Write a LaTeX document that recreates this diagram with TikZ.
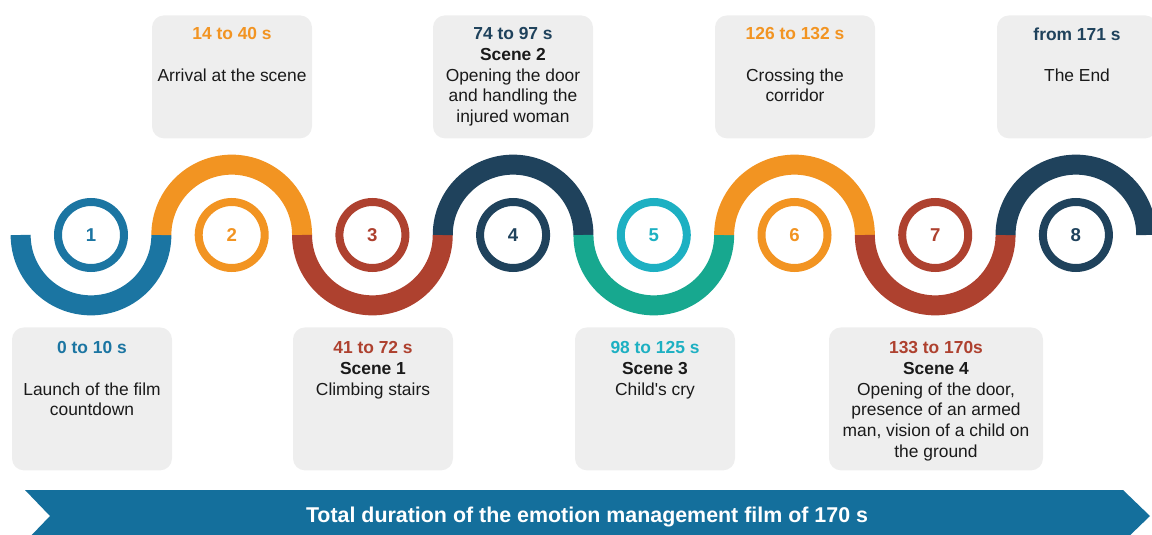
\documentclass[tikz,border=0pt]{standalone}
\usepackage{fontspec}
\setmainfont{Liberation Sans}
\usetikzlibrary{positioning}

\definecolor{cblue}{HTML}{1B75A2}
\definecolor{corange}{HTML}{F29422}
\definecolor{cred}{HTML}{AE412F}
\definecolor{cnavy}{HTML}{1F425C}
\definecolor{ccyan}{HTML}{1DB0C2}
\definecolor{cteal}{HTML}{17A88F}
\definecolor{cardgray}{HTML}{EEEEEE}
\definecolor{ink}{HTML}{1A1A1A}
\definecolor{banner}{HTML}{146F9C}

\begin{document}
\begin{tikzpicture}[x=0.5pt,y=-0.5pt,
    num/.style={circle,draw,line width=4pt,minimum size=33pt,inner sep=0pt,font=\fontsize{9.3}{10}\selectfont\bfseries},
    wave/.style={line width=10pt},
    card/.style={rectangle,fill=cardgray,rounded corners=6pt,minimum width=80pt,inner sep=0pt},
    topcard/.style={card,minimum height=61.5pt,anchor=north},
    lowcard/.style={card,minimum height=71.5pt,anchor=north},
    info/.style={align=center,font=\fontsize{8.7}{10.4}\selectfont,text=ink,inner sep=0pt}]

    \useasboundingbox (0,0) rectangle (1152,535);

    % Steps
    \node[num,draw=cblue,text=cblue] (n1) at (91,235) {1};
    \node[num,draw=corange,text=corange] (n2) at (231.7,235) {2};
    \node[num,draw=cred,text=cred] (n3) at (372.4,235) {3};
    \node[num,draw=cnavy,text=cnavy] (n4) at (513.1,235) {4};
    \node[num,draw=ccyan,text=ccyan] (n5) at (653.8,235) {5};
    \node[num,draw=corange,text=corange] (n6) at (794.5,235) {6};
    \node[num,draw=cred,text=cred] (n7) at (935.2,235) {7};
    \node[num,draw=cnavy,text=cnavy] (n8) at (1075.9,235) {8};

    % Wave
    \draw[wave,cblue] (n1.center) ++(-70.35,0) arc[start angle=180,end angle=360,radius=35.175pt];
    \draw[wave,corange] (n2.center) ++(-70.35,0) arc[start angle=180,end angle=0,radius=35.175pt];
    \draw[wave,cred] (n3.center) ++(-70.35,0) arc[start angle=180,end angle=360,radius=35.175pt];
    \draw[wave,cnavy] (n4.center) ++(-70.35,0) arc[start angle=180,end angle=0,radius=35.175pt];
    \draw[wave,cteal] (n5.center) ++(-70.35,0) arc[start angle=180,end angle=360,radius=35.175pt];
    \draw[wave,corange] (n6.center) ++(-70.35,0) arc[start angle=180,end angle=0,radius=35.175pt];
    \draw[wave,cred] (n7.center) ++(-70.35,0) arc[start angle=180,end angle=360,radius=35.175pt];
    \draw[wave,cnavy] (n8.center) ++(-70.35,0) arc[start angle=180,end angle=0,radius=35.175pt];

    % Upper cards
    \node[topcard] (c2) at (232,15) {};
    \node[topcard] (c4) at (513,15) {};
    \node[topcard] (c6) at (795,15) {};
    \node[topcard] (c8) at (1077,15) {};
    \node[info,below=6pt of c2.north] (t2) {\textcolor{corange}{\bfseries 14 to 40 s}\\[10.4pt]Arrival at the scene};
    \node[info,below=6pt of c4.north] (t4) {\textcolor{cnavy}{\bfseries 74 to 97 s}\\\textbf{Scene 2}\\Opening the door\\and handling the\\injured woman};
    \node[info,below=6pt of c6.north] (t6) {\textcolor{corange}{\bfseries 126 to 132 s}\\[10.4pt]Crossing the\\corridor};
    \node[info,below=6pt of c8.north] (t8) {\textcolor{cnavy}{\bfseries from 171 s}\\[10.4pt]The End};

    % Lower cards
    \node[lowcard] (c1) at (92,327) {};
    \node[lowcard] (c3) at (373,327) {};
    \node[lowcard] (c5) at (655,327) {};
    \node[lowcard,minimum width=107pt] (c7) at (936,327) {};
    \node[info,below=7pt of c1.north] (t1) {\textcolor{cblue}{\bfseries 0 to 10 s}\\[10.4pt]Launch of the film\\countdown};
    \node[info,below=7pt of c3.north] (t3) {\textcolor{cred}{\bfseries 41 to 72 s}\\\textbf{Scene 1}\\Climbing stairs};
    \node[info,below=7pt of c5.north] (t5) {\textcolor{ccyan}{\bfseries 98 to 125 s}\\\textbf{Scene 3}\\Child\textquotesingle s cry};
    \node[info,below=7pt of c7.north] (t7) {\textcolor{cred}{\bfseries 133 to 170s}\\\textbf{Scene 4}\\Opening of the door,\\presence of an armed\\man, vision of a child on\\the ground};

    % Total duration
    \fill[banner] (25,490) -- (1123,490) -- (1150,516) -- (1123,542) -- (25,542) -- (50,516) -- cycle;
    \node[text=white,font=\fontsize{10.7}{12}\selectfont\bfseries] (total) at (587,517) {Total duration of the emotion management film of 170 s};
\end{tikzpicture}
\end{document}
